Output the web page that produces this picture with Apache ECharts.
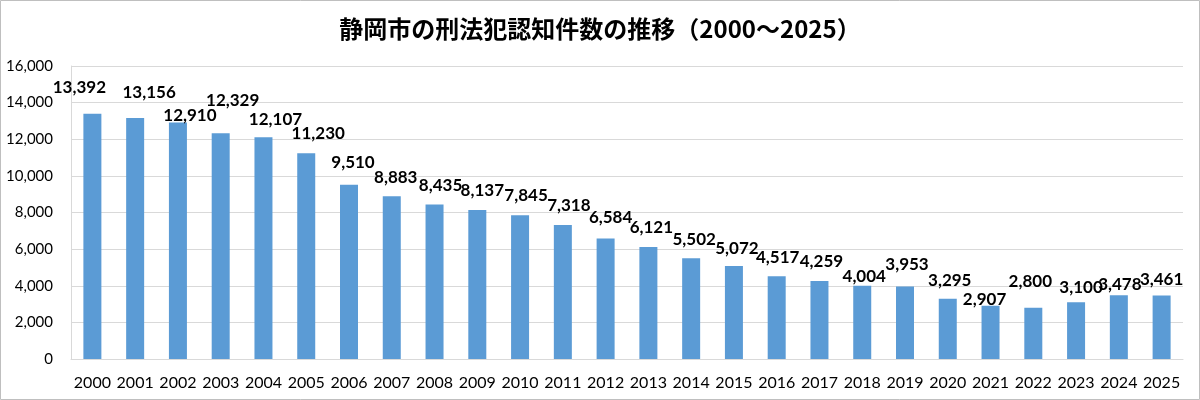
<!DOCTYPE html>
<html>
<head>
<meta charset="utf-8">
<script src="https://cdn.jsdelivr.net/npm/echarts@6/dist/echarts.min.js"></script>
<style>
  html, body { margin: 0; padding: 0; background: #fff; }
  #chart { width: 1200px; height: 400px; }
</style>
</head>
<body>
<div id="chart"></div>
<script>
// 年（カテゴリ）
const years = ['2000', '2001', '2002', '2003', '2004', '2005', '2006', '2007', '2008', '2009',
  '2010', '2011', '2012', '2013', '2014', '2015', '2016', '2017', '2018', '2019',
  '2020', '2021', '2022', '2023', '2024', '2025']

// 刑法犯認知件数
const counts = [13392, 13156, 12910, 12329, 12107, 11230, 9510, 8883, 8435, 8137,
  7845, 7318, 6584, 6121, 5502, 5072, 4517, 4259, 4004, 3953,
  3295, 2907, 2800, 3100, 3478, 3461]

const yTicks = { min: 0, max: 16000, interval: 2000 }

// ラベルの手動ずらし（元の Excel で個別に動かされていたもの）
const labelShift = [[-13, -13], [14, -12], [12, 6], [12, -19], [12, -4], [12, -6], [4, -9], [4, -5], [6, -6], [5, -6],
  [6, -6], [6, -6], [5, -7], [3, -6], [3, -5], [3, -4], [1, -5], [2, -6], [2, 4], [2, -9],
  [2, -5], [-6, 7], [-3, -13], [5, -1], [1, 3], [0, -3]]

const chart = echarts.init(document.getElementById('chart'))

const option = {
  animation: false,
  backgroundColor: '#fff',
  title: {
    text: '静岡市の刑法犯認知件数の推移（2000～2025）',
    left: 'center',
    top: 12,
    textStyle: {
      fontFamily: 'Noto Sans CJK JP',
      fontSize: 24,
      fontWeight: 'bold',
      color: '#000'
    }
  },
  graphic: [{
    type: 'rect',
    shape: { x: 0.5, y: 0.5, width: 1199, height: 399 },
    style: { fill: 'none', stroke: '#bfbfbf', lineWidth: 1 },
    silent: true
  }],
  grid: {
    top: 66,
    left: 71,
    right: 17,
    bottom: 41
  },
  xAxis: {
    type: 'category',
    data: years,
    axisLine: { lineStyle: { color: '#d9d9d9' } },
    axisTick: { show: false },
    axisLabel: {
      interval: 0,
      color: '#000',
      fontSize: 16,
      fontFamily: 'Lato',
      margin: 16
    }
  },
  yAxis: {
    type: 'value',
    min: yTicks.min,
    max: yTicks.max,
    interval: yTicks.interval,
    axisLine: { show: true, lineStyle: { color: '#d9d9d9' } },
    axisTick: { show: false },
    axisLabel: {
      color: '#000',
      fontSize: 15,
      fontFamily: 'Lato',
      margin: 18,
      formatter: v => v.toLocaleString('en-US')
    },
    splitLine: { lineStyle: { color: '#d9d9d9' } }
  },
  series: [{
    type: 'bar',
    barWidth: 18,
    data: counts.map((v, i) => ({
      value: v,
      label: { offset: labelShift[i] }
    })),
    itemStyle: {
      color: '#5b9bd5'
    },
    label: {
      show: true,
      position: 'top',
      distance: 5,
      color: '#000',
      fontSize: 17,
      fontWeight: 'bold',
      fontFamily: 'Lato',
      formatter: p => p.value.toLocaleString('en-US')
    }
  }]
}

chart.setOption(option)
</script>
</body>
</html>
